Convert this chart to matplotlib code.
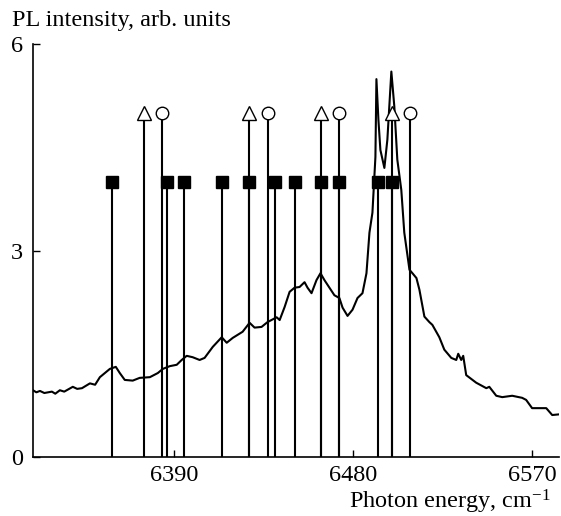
import numpy as np
import matplotlib.pyplot as plt

plt.rcParams["font.family"] = ["Liberation Serif", "DejaVu Serif"]
plt.rcParams["mathtext.fontset"] = "custom"
plt.rcParams["mathtext.rm"] = "Liberation Serif"
plt.rcParams["mathtext.it"] = "Liberation Serif:italic"

# PL spectrum (photon energy cm^-1, intensity arb. units)
energy = [6319.3, 6321.0, 6322.8, 6325.0, 6328.8, 6330.5, 6332.8, 6335.0,
          6339.3, 6341.5, 6343.9, 6347.9, 6350.5, 6352.9,
          6357.9, 6360.9, 6362.9, 6365.4, 6369.4, 6372.9, 6378.0, 6382.0,
          6384.5, 6388.0, 6391.5, 6394.0, 6396.5, 6399.5, 6403.0, 6405.5,
          6409.6, 6414.1, 6416.6, 6419.6, 6424.6, 6428.1, 6430.6, 6434.1,
          6437.1, 6441.7, 6443.2, 6445.7, 6448.2, 6450.7, 6453.2, 6455.7,
          6457.2, 6459.2, 6461.7, 6463.7, 6465.7, 6468.2, 6470.7, 6473.2,
          6474.8, 6477.3, 6479.8, 6482.3, 6484.8, 6486.8, 6488.3, 6489.8,
          6491.3, 6491.8, 6492.8, 6493.8, 6495.8, 6497.3, 6499.3, 6500.8,
          6502.3, 6504.3, 6505.8, 6508.4, 6509.9, 6511.9, 6513.4, 6515.9,
          6518.4, 6519.9, 6523.4, 6525.9, 6529.4, 6531.9, 6532.9, 6534.4,
          6535.4, 6536.9, 6541.9, 6547.0, 6548.5, 6552.0, 6555.0, 6560.0,
          6565.0, 6567.0, 6570.0, 6577.1, 6580.1, 6583.6]
intensity = [0.97, 0.94, 0.96, 0.93, 0.95, 0.92, 0.97, 0.95,
             1.02, 0.99, 1.00, 1.07, 1.05, 1.16,
             1.28, 1.31, 1.22, 1.12, 1.11, 1.15, 1.16, 1.22,
             1.28, 1.32, 1.34, 1.41, 1.47, 1.45, 1.41, 1.44,
             1.60, 1.74, 1.66, 1.73, 1.82, 1.95, 1.88, 1.89,
             1.96, 2.03, 1.99, 2.18, 2.40, 2.46, 2.47, 2.54,
             2.46, 2.38, 2.57, 2.67, 2.57, 2.46, 2.35, 2.31,
             2.17, 2.05, 2.14, 2.31, 2.38, 2.67, 3.26, 3.55,
             4.36, 5.49, 4.90, 4.46, 4.20, 4.61, 5.60, 5.09,
             4.32, 3.88, 3.26, 2.72, 2.67, 2.60, 2.43, 2.04,
             1.96, 1.92, 1.74, 1.56, 1.44, 1.41, 1.50, 1.41,
             1.47, 1.19, 1.08, 1.00, 1.02, 0.89, 0.87, 0.89,
             0.86, 0.83, 0.71, 0.71, 0.61, 0.62]

# calculated line positions
square_pos = [6359.2, 6386.7, 6395.3, 6414.2, 6428.0, 6441.0, 6451.0,
              6463.8, 6473.2, 6492.4, 6499.6]
square_h = 4.0
triangle_pos = [6375.0, 6428.0, 6463.8, 6499.6]
circle_pos = [6384.0, 6437.2, 6473.2, 6508.8]
open_h = 5.0

xticks = [6390, 6480, 6570]
yticks = [0, 3, 6]

fig = plt.figure(figsize=(5.61, 5.16), dpi=100)
ax = fig.add_axes([0.0588, 0.1143, 0.9376, 0.8004])

ax.vlines(square_pos, 0, square_h, color="black", lw=1.5, zorder=2)
ax.vlines(triangle_pos, 0, open_h, color="black", lw=1.5, zorder=2)
ax.vlines(circle_pos, 0, open_h, color="black", lw=1.5, zorder=2)

ax.plot(energy, intensity, color="black", lw=1.5, zorder=3)

ax.plot(square_pos, [square_h] * len(square_pos), "s", ms=8.5,
        mfc="black", mec="black", zorder=4)
ax.plot(triangle_pos, [open_h] * len(triangle_pos), "^", ms=10.5,
        mfc="white", mec="black", mew=1.0, zorder=4)
ax.plot(circle_pos, [open_h] * len(circle_pos), "o", ms=9,
        mfc="white", mec="black", mew=1.0, zorder=4)

ax.set_xlim(6319.3, 6583.5)
ax.set_ylim(0, 6)
ax.set_xticks(xticks)
ax.set_yticks(yticks)
ax.tick_params(direction="in", length=5, width=1.0, labelsize=17.5)
ax.tick_params(axis="x", pad=6)
ax.tick_params(axis="y", pad=7)
for s in ["top", "right"]:
    ax.spines[s].set_visible(False)
for s in ["left", "bottom"]:
    ax.spines[s].set_linewidth(1.2)

fig.text(12 / 561, 1 - 26 / 516, "PL intensity, arb. units", fontsize=17.5,
         ha="left", va="baseline")
fig.text(551 / 561, 1 - 508 / 516, r"Photon energy, cm$^{-1}$", fontsize=17.5,
         ha="right", va="baseline")

fig.savefig("out.png", dpi=100)
